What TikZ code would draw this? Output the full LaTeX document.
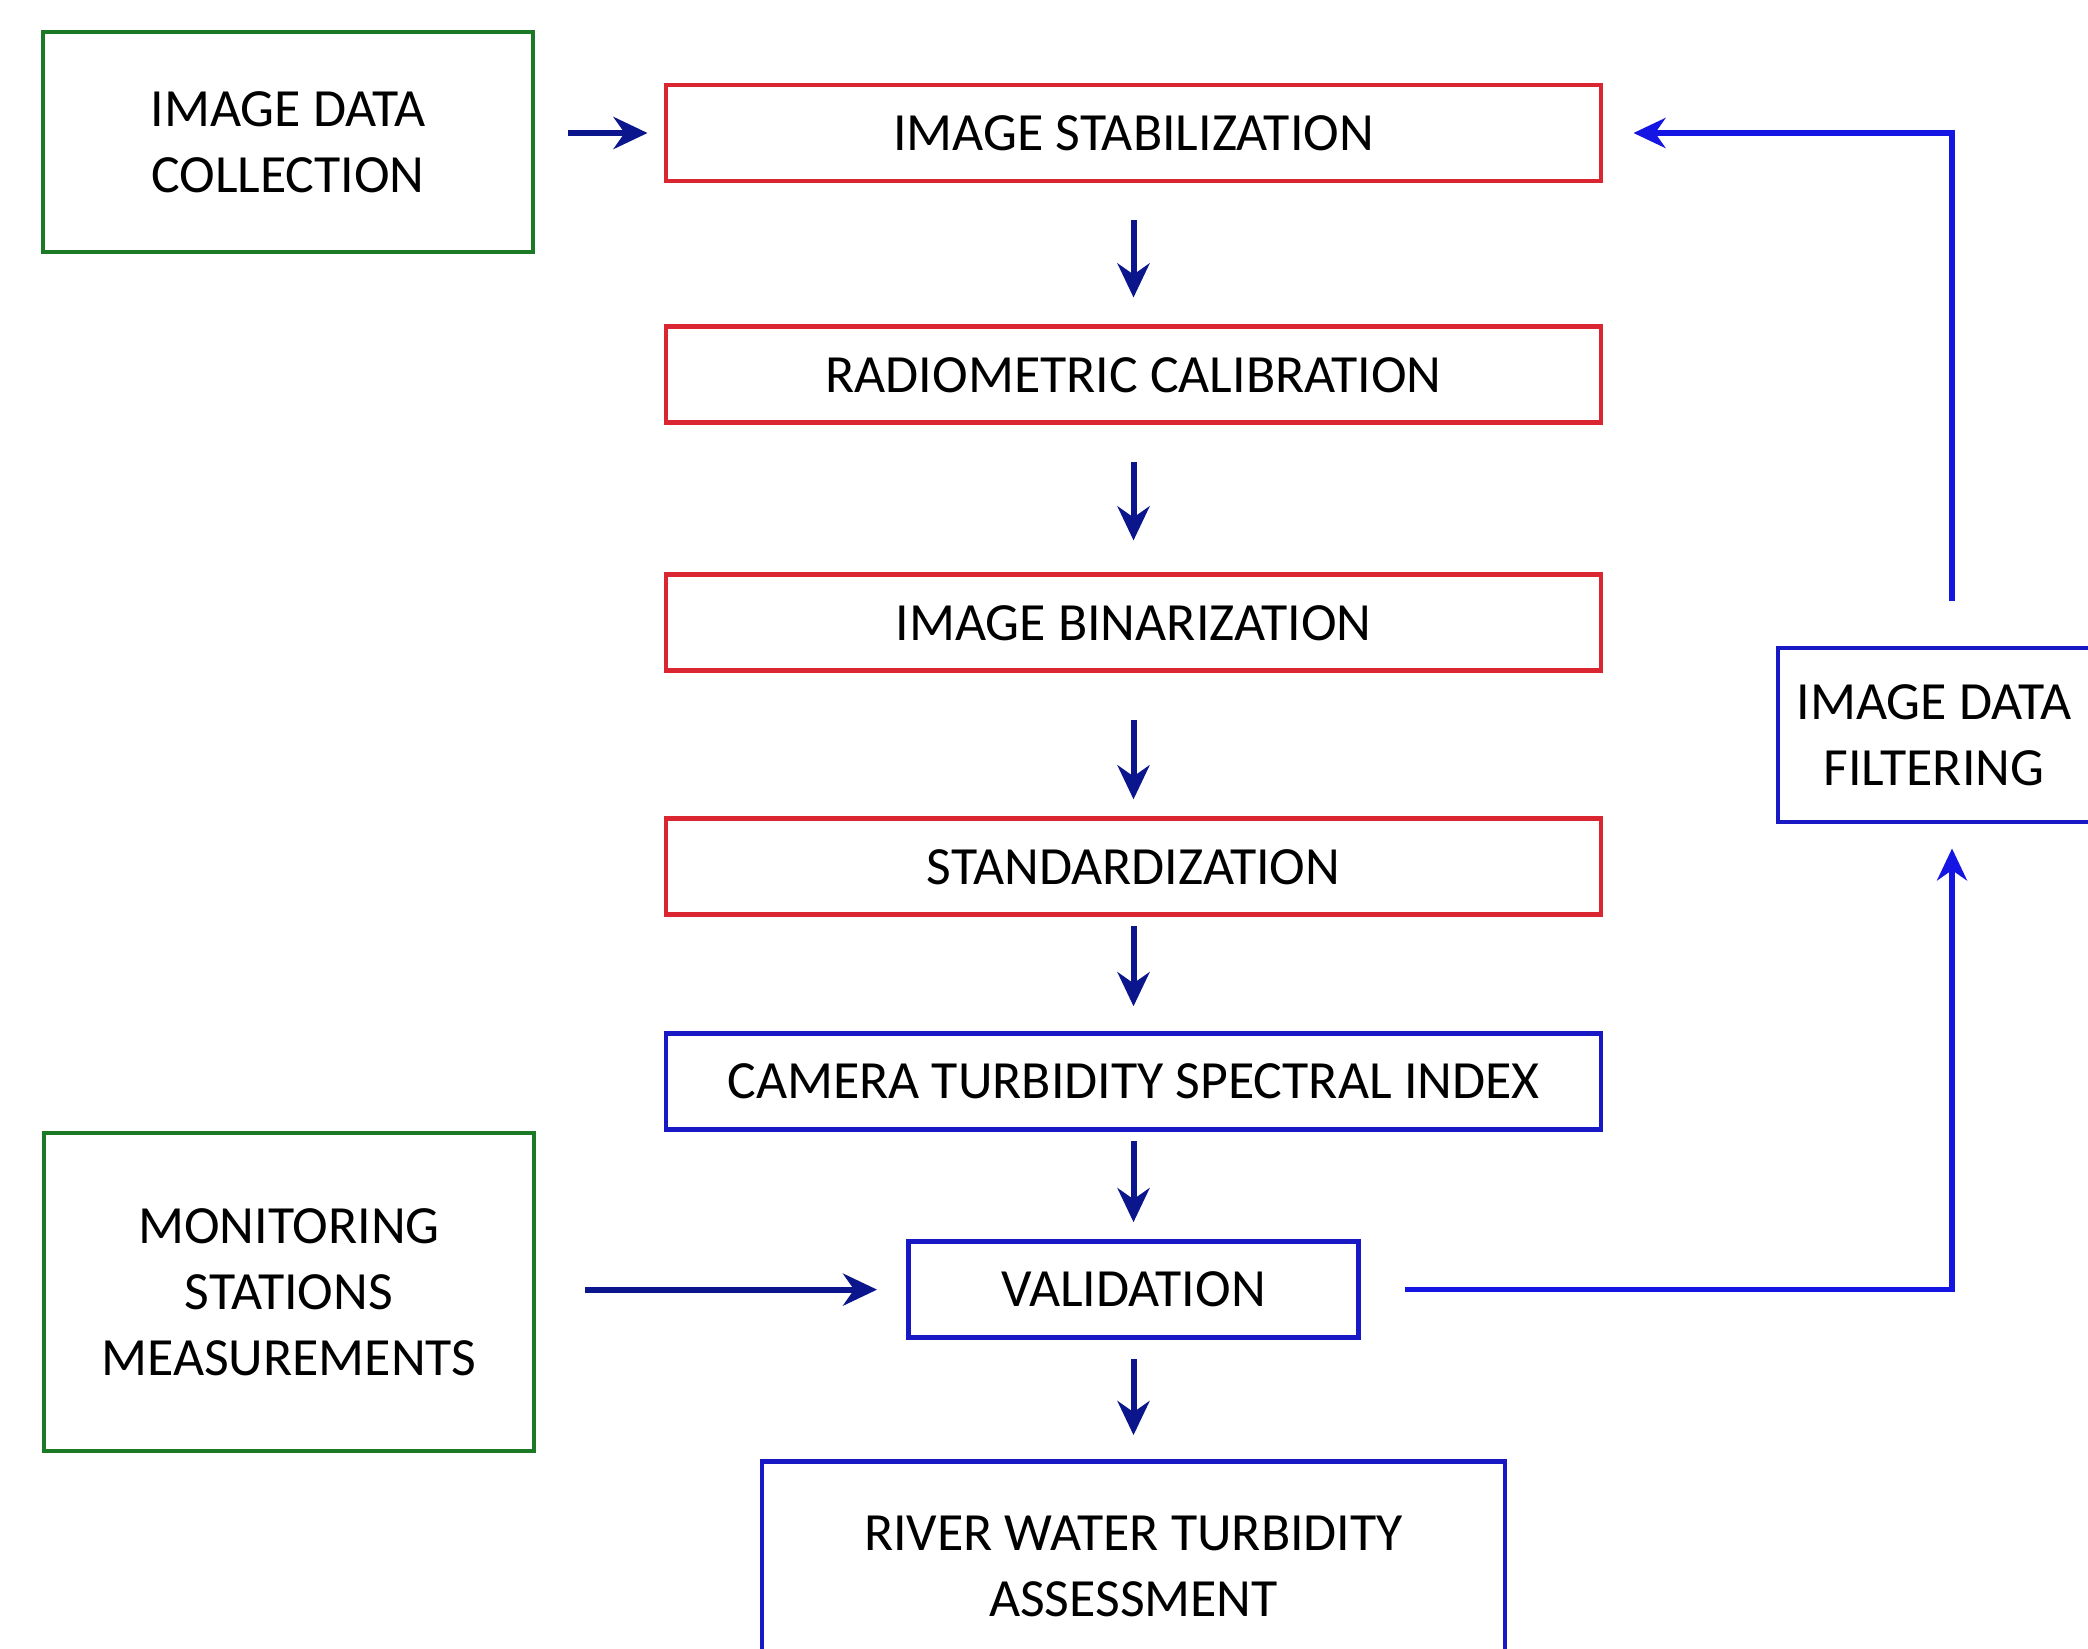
\documentclass[tikz,border=0pt]{standalone}
\usepackage{fontspec}
\setmainfont{Carlito}
\usepackage{xcolor}
\definecolor{StageRed}{RGB}{218,38,48}
\definecolor{SourceGreen}{RGB}{28,122,38}
\definecolor{ResultBlue}{RGB}{24,24,196}
\definecolor{ArrowNavy}{RGB}{12,22,140}
\definecolor{LoopBlue}{RGB}{22,22,228}
\usepackage{tikz}
\usetikzlibrary{arrows.meta,positioning,calc}

\begin{document}
\begin{tikzpicture}[
  font=\fontsize{15.3}{18.8}\selectfont,
  box/.style={
    line width=1.4pt,
    align=center,
    inner sep=0pt,
    fill=white
  },
  stage/.style={box,draw=StageRed,minimum width=9.35cm,minimum height=0.96cm},
  source/.style={box,draw=SourceGreen,minimum width=4.9cm},
  result/.style={box,draw=ResultBlue},
  arrow/.style={-{Stealth[length=3.4mm,width=3.2mm]},line width=1.7pt,ArrowNavy},
  feedback/.style={-{Stealth[length=3.2mm,width=3mm]},line width=1.5pt,LoopBlue}
]
\useasboundingbox (0,0) rectangle (20.88,-16.48);
\fill[white] (0,0) rectangle (20.88,-16.48);
\node[stage] (stab) at (11.335,-1.33) {IMAGE STABILIZATION};
\node[stage,below=1.41cm of stab] (radio) {RADIOMETRIC CALIBRATION};
\node[stage,below=1.47cm of radio] (binar) {IMAGE BINARIZATION};
\node[stage,below=1.43cm of binar] (stand) {STANDARDIZATION};
\node[result,below=1.14cm of stand,minimum width=9.35cm,minimum height=0.96cm] (index) {CAMERA TURBIDITY SPECTRAL INDEX};
\node[result,below=1.07cm of index,minimum width=4.5cm,minimum height=0.96cm] (valid) {VALIDATION};
\node[result,below=1.19cm of valid,minimum width=7.43cm,minimum height=2.1cm] (assess) {RIVER WATER TURBIDITY\\ASSESSMENT};
\node[source,minimum height=2.2cm] (collect) at (2.88,-1.42) {IMAGE DATA\\COLLECTION};
\node[source,minimum height=3.18cm] (monitor) at (2.89,-12.92) {MONITORING\\STATIONS\\MEASUREMENTS};
\node[result,minimum width=3.12cm,minimum height=1.74cm] (filter) at (19.34,-7.35) {IMAGE DATA\\FILTERING};
\coordinate (loopx) at (19.52,0);
% main chain
\draw[arrow,shorten <=0.33cm,shorten >=0.16cm] (collect.east |- stab.west) -- (stab.west);
\foreach \a/\b/\s/\e in {stab/radio/0.37/0.27,radio/binar/0.37/0.32,binar/stand/0.47/0.17,
    stand/index/0.09/0.25,index/valid/0.09/0.17,valid/assess/0.19/0.24}
  \draw[arrow,shorten <=\s cm,shorten >=\e cm] (\a) -- (\b);
\draw[arrow,shorten <=0.49cm,shorten >=0.29cm] (monitor.east |- valid.west) -- (valid.west);
% feedback loop
\draw[feedback,shorten <=0.44cm,shorten >=0.24cm] (valid.east) -- (valid.east -| loopx) -- (loopx |- filter.south);
\draw[feedback,shorten <=0.45cm,shorten >=0.3cm] (loopx |- filter.north) -- (loopx |- stab.east) -- (stab.east);
\end{tikzpicture}
\end{document}
